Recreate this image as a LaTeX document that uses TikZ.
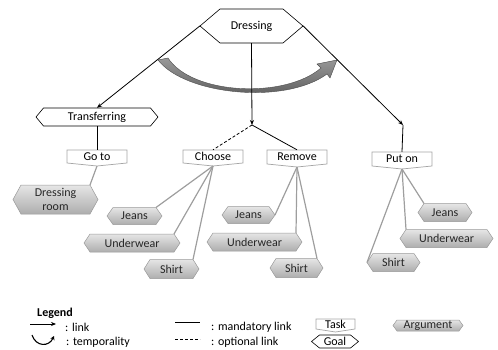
\documentclass[tikz,border=0pt]{standalone}
\usepackage{fontspec}
\setmainfont{Carlito}
\usetikzlibrary{arrows.meta,calc}
\newcommand\goalhex[7]{% name, cx, cy, hw, hh, chamfer, text
  \path[goalshape] (#2-#4,#3) -- (#2-#4+#6,#3-#5) -- (#2+#4-#6,#3-#5) -- (#2+#4,#3) -- (#2+#4-#6,#3+#5) -- (#2-#4+#6,#3+#5) -- cycle;
  \node[minimum width=2*#4, minimum height=2*#5] (#1) at (#2,#3) {#7};}
\newcommand\argbox[7]{% name, cx, cy, hw, hh, chamfer, text
  \path[argshape] (#2-#4,#3) -- (#2-#4+#6,#3-#5) -- (#2+#4-#6,#3-#5) -- (#2+#4,#3) -- (#2+#4-#6,#3+#5) -- (#2-#4+#6,#3+#5) -- cycle;
  \node[minimum width=2*#4, minimum height=2*#5, align=center, text=black!85] (#1) at (#2,#3) {#7};
  \coordinate (#1-tr) at (#2+#4-#6,#3-#5);
  \coordinate (#1-tl) at (#2-#4+#6,#3-#5);
  \coordinate (#1-r) at (#2+#4,#3);
  \coordinate (#1-l) at (#2-#4,#3);}
\newcommand\taskbox[6]{% name, cx, ytop, hw, h, text
  \path[taskshape] (#2-#4,#3) -- (#2+#4,#3) -- (#2+#4,#3+#5) -- (#2,#3+#5+3) -- (#2-#4,#3+#5) -- cycle;
  \node[minimum width=2*#4, minimum height=#5] (#1) at (#2,#3+#5/2) {#6};
  \coordinate (#1-b) at (#2,#3+#5+3);}
\begin{document}
\begin{tikzpicture}[x=1pt,y=-1pt,
  every node/.style={font=\fontsize{12}{14}\selectfont, inner sep=0pt},
  goalshape/.style={draw=black, fill=white, line width=0.6pt},
  taskshape/.style={draw=black!35, fill=white, line width=0.7pt},
  argshape/.style={draw=black!40, top color=black!10, bottom color=black!32, line width=0.5pt},
  link/.style={draw=black, line width=0.8pt},
  arglink/.style={draw=black!38, line width=1.2pt},
  tip/.style={-{Stealth[length=5pt,width=4pt]}},
  optional/.style={dash pattern=on 3pt off 2pt}
]
\useasboundingbox (0,0) rectangle (498,350);
% temporality arc
\path[draw=black!70, line width=0.4pt, top color=black!40, bottom color=black!68]
  (158,60) .. controls (185,95) and (285,105) .. (327,74) -- (330,78) -- (337,60) -- (317,64) -- (321,68)
  .. controls (285,99) and (192,95) .. (168,58) -- cycle;
% goals
\goalhex{dress}{251.5}{26}{51.5}{17}{20}{Dressing}
\goalhex{trans}{97}{117}{61}{9}{7.5}{Transferring}
% tasks
\taskbox{goto}{97}{150}{30}{13}{Go to}
\taskbox{choose}{213}{150}{30}{13}{Choose}
\taskbox{remove}{297}{150}{30}{14}{Remove}
\taskbox{puton}{402}{152}{30}{14}{Put on}
% arguments
\argbox{droom}{55.5}{199.5}{42.5}{14.5}{8}{Dressing\\room}
\argbox{cj}{134.5}{216}{27.5}{8.5}{6}{Jeans}
\argbox{cu}{132}{243}{48}{9}{6}{Underwear}
\argbox{cs}{171.5}{269}{27.5}{9.5}{6}{Shirt}
\argbox{rj}{248.5}{215}{26.5}{8.5}{6}{Jeans}
\argbox{ru}{254.5}{242}{47.5}{9}{6}{Underwear}
\argbox{rs}{296.5}{268}{26.5}{9.5}{6}{Shirt}
\argbox{pj}{445}{212.5}{27}{9}{6}{Jeans}
\argbox{pu}{446.5}{238.5}{46.5}{9}{6}{Underwear}
\argbox{ps}{393.5}{262.5}{26.5}{9}{6}{Shirt}
% junctions
\coordinate (junc1) at (252,125);
\coordinate (junc2) at (403,125);
% links
\draw[link,tip] (dress.west) -- (trans.north);
\draw[link,tip] (dress.south) -- (junc1);
\draw[link,tip] (dress.east) -- (junc2);
\draw[link] (junc2) -- (puton.north);
\draw[link,optional] (junc1) -- (choose.north);
\draw[link] (junc1) -- (remove.north);
\draw[link] (trans.south) -- (goto.north);
% argument links
\draw[arglink] (goto-b) -- (droom-tr);
\draw[arglink] (choose-b) -- (cj-tr);
\draw[arglink] (choose-b) -- (cu-tr);
\draw[arglink] (choose-b) -- (cs-tr);
\draw[arglink] (remove-b) -- (rj-r);
\draw[arglink] (remove-b) -- (ru-tr);
\draw[arglink] (remove-b) -- (rs-tr);
\draw[arglink] (puton-b) -- (pj-tl);
\draw[arglink] (puton-b) -- (pu-tl);
\draw[arglink] (puton-b) -- (ps-l);
% legend
\node[anchor=west, font=\fontsize{12}{14}\selectfont\bfseries] (leg) at (37,313) {Legend};
\coordinate (la1) at (30,324);
\coordinate (la2) at (56,324);
\draw[link,tip] (la1) -- (la2);
\node[anchor=west] (llink) at (65,327) {: link};
\coordinate (lt1) at (32,335);
\coordinate (lt2) at (54,336);
\draw[line width=1.1pt, -{Stealth[length=4pt,width=4.5pt]}] (lt1) .. controls (36,347) and (49,347) .. (lt2);
\node[anchor=west] (ltemp) at (66,342) {: temporality};
\coordinate (lm1) at (175,322);
\coordinate (lm2) at (200,322);
\draw[link] (lm1) -- (lm2);
\node[anchor=west] (lmand) at (211,327) {: mandatory link};
\coordinate (lo1) at (175,339);
\coordinate (lo2) at (200,339);
\draw[link,optional] (lo1) -- (lo2);
\node[anchor=west] (lopt) at (211,342) {: optional link};
\taskbox{ltask}{335.5}{319}{19.5}{10}{Task}
\goalhex{lgoal}{335}{341.5}{23.5}{6.5}{8}{Goal}
\argbox{larg}{428}{325.5}{35}{5.5}{4}{Argument}
\end{tikzpicture}
\end{document}
